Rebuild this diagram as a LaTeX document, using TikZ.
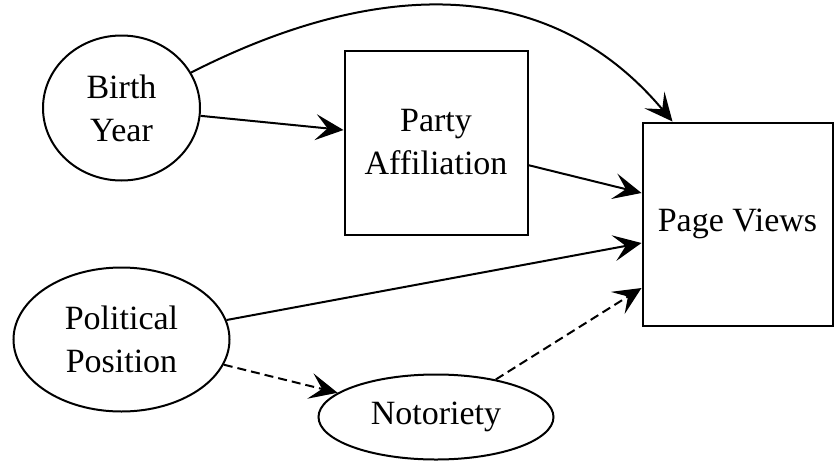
\documentclass[tikz,border=0pt]{standalone}
\usepackage{fontspec}
\setmainfont{Liberation Serif}
\usetikzlibrary{shapes.geometric,arrows.meta}
\begin{document}
\begin{tikzpicture}[x=1pt,y=-1pt,
  every node/.style={font=\fontsize{34}{43}\selectfont, align=center, inner sep=0pt, line width=2pt, draw},
  oval/.style={ellipse},
  boxnode/.style={rectangle},
  link/.style={line width=2pt, -{Stealth[length=28pt,width=26pt,inset=12pt]}},
  hidden/.style={link, dash pattern=on 9pt off 5pt}]
\useasboundingbox (0,0) rectangle (835,461);
\node[oval, minimum width=157pt, minimum height=145pt] (by) at (121.5,108) {Birth\\Year};
\node[boxnode, minimum width=183pt, minimum height=184pt] (pa) at (436,142.5) {Party\\Affiliation};
\node[boxnode, minimum width=190pt, minimum height=203pt] (pv) at (737.5,224) {Page Views};
\node[oval, minimum width=216pt, minimum height=144pt] (pp) at (121.5,339.5) {Political\\Position};
\node[oval, minimum width=235pt, minimum height=85pt] (no) at (436,417) {Notoriety};
\coordinate (pvtop) at ([xshift=31pt]pv.north west);
\draw[link] (by) to[out=27, in=130, looseness=1.05] (pvtop);
\draw[link] (by) -- ([yshift=12.5pt]pa.west);
\draw[link] (pa) -- ([yshift=31pt]pv.west);
\draw[link] (pp) -- ([yshift=-19pt]pv.west);
\draw[hidden] (pp) -- (no);
\draw[hidden] (no) -- ([yshift=-64pt]pv.west);
\end{tikzpicture}
\end{document}
